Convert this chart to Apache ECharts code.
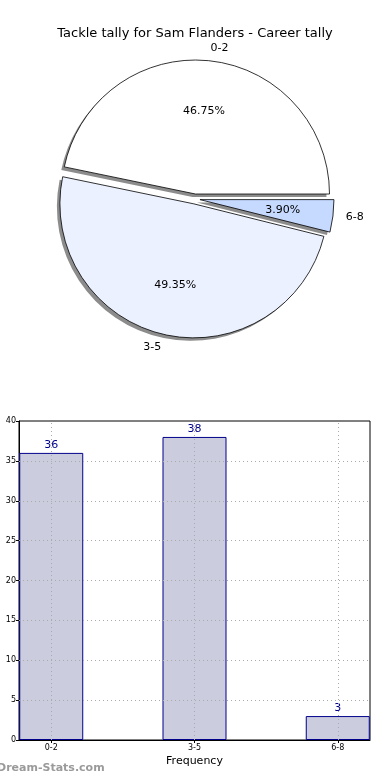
<!DOCTYPE html>
<html>
<head>
<meta charset="utf-8">
<script src="https://cdn.jsdelivr.net/npm/echarts@6/dist/echarts.min.js"></script>
<style>html,body{margin:0;padding:0;background:#fff}#c{width:390px;height:780px}</style>
</head>
<body>
<div id="c"></div>
<script>
// ---- data ----
const titleText = 'Tackle tally for Sam Flanders - Career tally';
const categories = ['0-2', '3-5', '6-8'];
const counts = [36, 38, 3];
const categoryPositions = [0, 1, 2];
const yMin = 0, yMax = 40, yStep = 5;
const xAxisName = 'Frequency';
const watermark = 'Dream-Stats.com';

// ---- styles ----
const sliceColors = ['#ffffff', '#ebf1fe', '#c6d9ff'];
const FONT = 'DejaVu Sans';
const PIE_R = 134;
const PIE_C = [195, 199];
const SHADOW_C = [PIE_C[0] - 3, PIE_C[1] + 3];
const EXPLODE = 5;

const total = counts.reduce((a, b) => a + b, 0);
const yTicks = [];
for (let v = yMin + yStep; v < yMax; v += yStep) yTicks.push(v);

const mkData = (withColor) => categories.map((c, i) => {
  const d = { name: c, value: counts[i], selected: true };
  if (withColor) d.itemStyle = { color: sliceColors[i] };
  return d;
});

const pieCommon = {
  type: 'pie', startAngle: 0, clockwise: false,
  selectedMode: 'multiple', selectedOffset: EXPLODE,
  avoidLabelOverlap: false, emphasis: { disabled: true }
};

const chart = echarts.init(document.getElementById('c'), null, { renderer: 'canvas' });
chart.setOption({
  animation: false,
  backgroundColor: '#fff',
  textStyle: { fontFamily: FONT },
  title: {
    text: titleText, left: 'center', top: 22,
    textStyle: { fontSize: 13, fontWeight: 'normal', color: '#000', fontFamily: FONT }
  },
  graphic: [{
    type: 'text', left: -3, top: 763,
    style: { text: watermark, fill: '#9a9a9a', font: 'bold 11px ' + FONT }
  }],
  grid: {
    left: 19, right: 20, top: 421, bottom: 40,
    show: true, borderColor: '#000', borderWidth: 1, backgroundColor: 'transparent'
  },
  xAxis: {
    type: 'value', min: -0.225, max: 2.225,
    name: xAxisName, nameLocation: 'middle', nameGap: 16,
    nameTextStyle: { fontSize: 11, color: '#000', fontFamily: FONT },
    axisLine: { show: true, onZero: false, lineStyle: { color: '#000' } },
    axisTick: { show: true, length: 3, customValues: categoryPositions, lineStyle: { color: '#000' } },
    axisLabel: {
      customValues: categoryPositions, fontSize: 8, color: '#000', margin: 4,
      formatter: v => categories[Math.round(v)]
    },
    splitLine: { show: false }
  },
  yAxis: {
    type: 'value', min: yMin, max: yMax, interval: yStep,
    axisLine: { show: true, onZero: false, lineStyle: { color: '#000' } },
    axisTick: { show: true, length: 3, lineStyle: { color: '#000' } },
    axisLabel: { fontSize: 8, color: '#000', margin: 3 },
    splitLine: { show: false }
  },
  series: [
    Object.assign({}, pieCommon, {
      center: SHADOW_C, radius: [0, PIE_R], silent: true,
      itemStyle: { color: '#8c8c8c', borderWidth: 0 },
      select: { itemStyle: { color: '#8c8c8c', borderWidth: 0 } },
      label: { show: false }, labelLine: { show: false },
      data: mkData(false), z: 1
    }),
    Object.assign({}, pieCommon, {
      center: PIE_C, radius: [0, PIE_R],
      itemStyle: { borderColor: '#000', borderWidth: 0.8 },
      select: { itemStyle: { borderColor: '#000', borderWidth: 0.8 } },
      label: {
        show: true, position: 'outside', fontSize: 11, color: '#000', fontFamily: FONT,
        distanceToLabelLine: 0, formatter: '{b}'
      },
      labelLine: { show: false, length: 13, length2: 0 },
      data: mkData(true), z: 2
    }),
    Object.assign({}, pieCommon, {
      center: PIE_C, radius: [0, PIE_R * 1.2], silent: true,
      itemStyle: { color: 'rgba(0,0,0,0)', borderWidth: 0 },
      select: { itemStyle: { color: 'rgba(0,0,0,0)', borderWidth: 0 } },
      label: {
        show: true, position: 'inside', fontSize: 11, color: '#000', fontFamily: FONT,
        formatter: p => (p.value / total * 100).toFixed(2) + '%'
      },
      labelLine: { show: false },
      data: mkData(false), z: 3
    }),
    {
      type: 'bar',
      data: categoryPositions.map((x, i) => [x, counts[i]]),
      barWidth: 64,
      itemStyle: { color: '#ccccdf', borderColor: '#00008b', borderWidth: 1 },
      label: { show: true, position: 'top', distance: 2, fontSize: 11, color: '#00008b', fontFamily: FONT },
      emphasis: { disabled: true },
      markLine: {
        silent: true, symbol: 'none',
        label: { show: false },
        lineStyle: { color: '#aaaaaa', type: [1, 3], width: 1 },
        data: yTicks.map(v => ({ yAxis: v }))
          .concat(categoryPositions.map(x => ({ xAxis: x })))
      }
    }
  ]
});
</script>
</body>
</html>
